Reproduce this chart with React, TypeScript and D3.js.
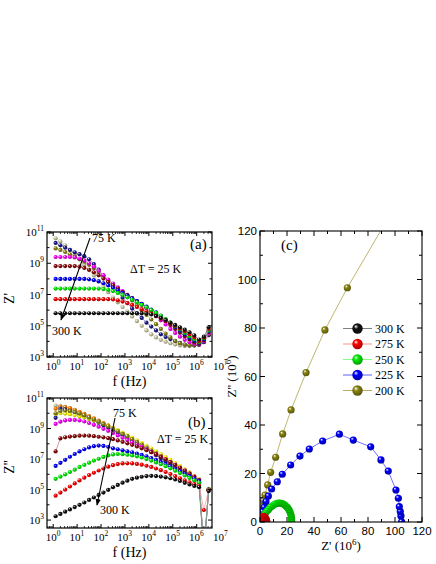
import React from 'react';
import * as d3 from 'd3';

const serif = '"Liberation Serif", "Times New Roman", serif';
const sans = '"Liberation Sans", Arial, sans-serif';

// log10 of frequency (Hz) for every measured point
const fExp = [0.1, 0.3, 0.5, 0.7, 0.9, 1.1, 1.3, 1.5, 1.7, 1.9, 2.1, 2.3, 2.5, 2.7, 2.9, 3.1, 3.3,
  3.5, 3.7, 3.9, 4.1, 4.3, 4.5, 4.7, 4.9, 5.1, 5.3, 5.5, 5.7, 5.9, 6.1, 6.3, 6.5];

// panel (a): log10 Z'
const re75 = [10.6, 10.4, 10.15, 9.85, 9.55, 9.25, 8.92, 8.58, 8.22, 7.85, 7.5, 7.15, 6.8, 6.5, 6.2, 5.9, 5.6, 5.3, 5.0, 4.7, 4.45, 4.25, 4.1, 3.98, 3.88, 3.8, 3.74, 3.7, 3.7, 3.72, 3.78, 3.95, 4.4];
const re100 = [10.3, 10.15, 10.0, 9.85, 9.7, 9.58, 9.45, 9.25, 8.95, 8.6, 8.2, 7.85, 7.5, 7.15, 6.8, 6.45, 6.1, 5.8, 5.5, 5.2, 4.95, 4.7, 4.45, 4.28, 4.15, 4.02, 3.9, 3.8, 3.75, 3.75, 3.78, 3.95, 4.4];
const re200 = [9.95, 9.85, 9.72, 9.57, 9.42, 9.26, 9.1, 8.9, 8.68, 8.44, 8.18, 7.92, 7.66, 7.41, 7.16, 6.92, 6.62, 6.3, 6.0, 5.7, 5.4, 5.1, 4.8, 4.5, 4.25, 4.03, 3.88, 3.8, 3.76, 3.76, 3.8, 4.0, 4.45];
const re150 = [9.4, 9.4, 9.4, 9.4, 9.37, 9.3, 9.18, 9.0, 8.78, 8.52, 8.24, 7.96, 7.7, 7.45, 7.21, 6.98, 6.76, 6.55, 6.34, 6.12, 5.88, 5.62, 5.35, 5.08, 4.8, 4.54, 4.3, 4.1, 3.94, 3.84, 3.8, 4.0, 4.5];
const re175 = [8.82, 8.82, 8.82, 8.82, 8.82, 8.78, 8.7, 8.58, 8.42, 8.23, 8.02, 7.8, 7.58, 7.37, 7.16, 6.96, 6.77, 6.58, 6.39, 6.2, 6.0, 5.78, 5.55, 5.3, 5.05, 4.8, 4.56, 4.33, 4.12, 3.95, 3.86, 4.08, 4.6];
const re225 = [8.0, 8.0, 8.0, 8.0, 8.0, 8.0, 8.0, 7.97, 7.92, 7.84, 7.72, 7.58, 7.43, 7.27, 7.1, 6.93, 6.76, 6.58, 6.4, 6.22, 6.04, 5.85, 5.64, 5.4, 5.16, 4.92, 4.68, 4.45, 4.23, 4.04, 3.92, 4.15, 4.65];
const re250 = [7.38, 7.38, 7.38, 7.38, 7.38, 7.38, 7.38, 7.38, 7.38, 7.38, 7.35, 7.3, 7.22, 7.1, 6.97, 6.82, 6.66, 6.5, 6.34, 6.17, 6.0, 5.83, 5.65, 5.42, 5.2, 4.98, 4.76, 4.54, 4.32, 4.12, 3.95, 4.2, 4.7];
const re275 = [6.7, 6.7, 6.7, 6.7, 6.7, 6.7, 6.7, 6.7, 6.7, 6.7, 6.7, 6.7, 6.68, 6.63, 6.55, 6.45, 6.33, 6.2, 6.06, 5.92, 5.77, 5.62, 5.46, 5.3, 5.15, 5.0, 4.83, 4.65, 4.45, 4.25, 4.02, 4.25, 4.8];
const re300 = [5.8, 5.8, 5.8, 5.8, 5.8, 5.8, 5.8, 5.8, 5.8, 5.8, 5.8, 5.8, 5.8, 5.8, 5.8, 5.8, 5.8, 5.79, 5.79, 5.78, 5.72, 5.62, 5.5, 5.36, 5.2, 5.05, 4.9, 4.75, 4.58, 4.38, 4.12, 4.3, 4.9];

// panel (b): log10 Z''
const im75 = [10.5, 10.48, 10.42, 10.32, 10.2, 10.06, 9.92, 9.77, 9.62, 9.46, 9.3, 9.13, 8.96, 8.79, 8.62, 8.44, 8.26, 8.08, 7.9, 7.71, 7.52, 7.33, 7.14, 6.94, 6.74, 6.54, 6.34, 6.13, 5.92, 5.7, 5.48, 1.0, 5.0];
const imOr = [10.3, 10.42, 10.4, 10.33, 10.23, 10.1, 9.96, 9.82, 9.67, 9.52, 9.36, 9.2, 9.03, 8.86, 8.69, 8.51, 8.33, 8.15, 7.96, 7.77, 7.58, 7.38, 7.18, 6.98, 6.77, 6.56, 6.35, 6.14, 5.92, 5.7, 5.48, 1.0, 5.0];
const im100 = [9.7, 10.3, 10.25, 10.15, 10.05, 9.93, 9.8, 9.66, 9.52, 9.37, 9.22, 9.06, 8.9, 8.73, 8.56, 8.38, 8.2, 8.02, 7.83, 7.64, 7.45, 7.25, 7.05, 6.85, 6.65, 6.45, 6.25, 6.05, 5.85, 5.65, 5.45, 1.0, 4.95];
const im125 = [9.95, 10.0, 9.98, 9.94, 9.88, 9.8, 9.72, 9.63, 9.53, 9.42, 9.3, 9.17, 9.03, 8.88, 8.72, 8.56, 8.39, 8.22, 8.05, 7.87, 7.69, 7.51, 7.32, 7.13, 6.94, 6.74, 6.54, 6.33, 6.12, 5.9, 5.67, 1.0, 5.05];
const im200 = [10.0, 10.15, 10.18, 10.15, 10.08, 9.98, 9.86, 9.73, 9.59, 9.45, 9.3, 9.14, 8.98, 8.82, 8.65, 8.48, 8.3, 8.12, 7.94, 7.75, 7.56, 7.37, 7.17, 6.97, 6.77, 6.57, 6.36, 6.15, 5.94, 5.72, 5.5, 1.0, 5.0];
const im150 = [9.3, 9.45, 9.53, 9.56, 9.56, 9.53, 9.46, 9.36, 9.24, 9.12, 8.98, 8.85, 8.7, 8.55, 8.4, 8.25, 8.1, 7.95, 7.8, 7.64, 7.48, 7.32, 7.15, 6.98, 6.8, 6.62, 6.44, 6.25, 6.05, 5.85, 5.64, 1.0, 5.0];
const im175 = [7.5, 8.35, 8.42, 8.47, 8.5, 8.53, 8.54, 8.53, 8.5, 8.46, 8.42, 8.37, 8.3, 8.22, 8.13, 8.03, 7.93, 7.82, 7.7, 7.58, 7.45, 7.3, 7.14, 6.97, 6.8, 6.62, 6.43, 6.24, 6.04, 5.84, 5.62, 1.0, 5.0];
const im225 = [6.55, 6.75, 6.95, 7.15, 7.33, 7.5, 7.64, 7.76, 7.84, 7.88, 7.86, 7.8, 7.7, 7.64, 7.57, 7.5, 7.43, 7.35, 7.27, 7.17, 7.06, 6.94, 6.81, 6.67, 6.52, 6.36, 6.2, 6.04, 5.88, 5.72, 5.56, 1.0, 5.0];
const im250 = [5.7, 5.85, 6.0, 6.15, 6.3, 6.48, 6.62, 6.76, 6.9, 7.02, 7.14, 7.24, 7.3, 7.33, 7.32, 7.28, 7.23, 7.18, 7.1, 7.0, 6.9, 6.78, 6.66, 6.53, 6.39, 6.24, 6.08, 5.92, 5.76, 5.6, 5.45, 1.0, 5.0];
const im275 = [4.6, 4.8, 5.0, 5.2, 5.4, 5.6, 5.78, 5.95, 6.1, 6.25, 6.38, 6.5, 6.6, 6.67, 6.71, 6.72, 6.71, 6.68, 6.63, 6.56, 6.48, 6.38, 6.27, 6.15, 6.02, 5.88, 5.74, 5.6, 5.47, 5.35, 5.25, 3.66, 4.95];
const im300 = [3.25, 3.4, 3.55, 3.7, 3.85, 4.0, 4.15, 4.32, 4.48, 4.65, 4.8, 4.98, 5.15, 5.3, 5.45, 5.58, 5.7, 5.78, 5.84, 5.88, 5.9, 5.88, 5.85, 5.8, 5.74, 5.66, 5.56, 5.44, 5.33, 5.24, 5.15, 1.0, 4.9];

// panel (c): [Z', Z''] in 10^6 ohm
const ny300 = [[0.63, 0.02], [0.6, 0.15], [0.5, 0.27], [0.35, 0.31], [0.2, 0.25], [0.08, 0.12], [0.02, 0.03]];
const ny275 = [[5.0, 0.1], [4.9, 0.6], [4.6, 1.1], [4.1, 1.6], [3.5, 2.0], [2.8, 2.3], [2.1, 2.2], [1.5, 1.9], [1.0, 1.5], [0.6, 1.1], [0.3, 0.6], [0.1, 0.2]];
const ny250 = [[23.5, 0.2], [23.4, 1.2], [23.2, 2.2], [22.8, 3.2], [22.2, 4.2], [21.4, 5.1], [20.4, 5.9], [19.2, 6.6], [17.9, 7.2], [16.5, 7.6], [15, 7.8], [13.5, 7.8], [12, 7.6], [10.5, 7.2], [9, 6.6], [7.6, 6.0], [6.3, 5.2], [5.1, 4.5], [4, 3.7], [3, 2.9], [2.1, 2.1], [1.4, 1.4], [0.8, 0.8], [0.3, 0.3]];
const ny225 = [[104.9, 0.1], [104.4, 2.5], [103.9, 4.3], [103.2, 6.3], [102.5, 9.8], [100.7, 13.2], [95, 21], [89.6, 25.6], [82, 31], [69.1, 33.8], [58.8, 36.2], [46.4, 33.4], [36.5, 30.1], [29.6, 27.2], [22.7, 23.5], [16.5, 19.7], [12.8, 16.6], [8.6, 13.6], [6.2, 10.7], [4.4, 8.4], [3.0, 6.0], [2.0, 4.2], [1.2, 2.6], [0.6, 1.3], [0.2, 0.4]];
const ny200 = [[0.2, 0.7], [0.5, 2.2], [1.0, 4.2], [1.7, 6.3], [2.5, 8.8], [3.7, 11.1], [5.7, 15.3], [7.9, 20.5], [11.6, 26.7], [16.8, 36.3], [23, 46.2], [34.1, 61.6], [48.1, 79.2], [64.7, 96.6], [93, 123.5]];

const palette = {
  beige: ['#cfcda4', '#dcdac0'],
  orange: ['#ff8000', '#ffb060'],
  navy: ['#1a1a8c', '#6a6ac0'],
  yellow: ['#ffff00', '#f0f080'],
  olive: ['#8a8410', '#b8ad62'],
  magenta: ['#ff00ff', '#ff80ff'],
  brown: ['#8b0a0a', '#c07070'],
  blue: ['#0000ff', '#6060ff'],
  green: ['#00ee00', '#80ff80'],
  red: ['#ff0000', '#ff9090'],
  black: ['#111111', '#808080'],
};

const seriesA = [
  { c: 'beige', v: re75 }, { c: 'navy', v: re100 }, { c: 'olive', v: re200 },
  { c: 'magenta', v: re150 }, { c: 'brown', v: re175 }, { c: 'blue', v: re225 },
  { c: 'green', v: re250 }, { c: 'red', v: re275 }, { c: 'black', v: re300 },
];
const seriesB = [
  { c: 'beige', v: im75 }, { c: 'orange', v: imOr }, { c: 'navy', v: im100 },
  { c: 'yellow', v: im125 }, { c: 'olive', v: im200 }, { c: 'magenta', v: im150 },
  { c: 'brown', v: im175 }, { c: 'blue', v: im225 }, { c: 'green', v: im250 },
  { c: 'red', v: im275 }, { c: 'black', v: im300 },
];
const seriesC = [
  { c: 'black', label: '300 K', v: ny300 }, { c: 'olive', label: '200 K', v: ny200 },
  { c: 'blue', label: '225 K', v: ny225 }, { c: 'green', label: '250 K', v: ny250 },
  { c: 'red', label: '275 K', v: ny275 },
];
const legendOrder = ['black', 'red', 'green', 'blue', 'olive'];

function Sup({ base, exp, ...rest }) {
  return (
    <text fontFamily={serif} fontSize={11} {...rest}>
      {base}
      <tspan dy={-5} fontSize={7.5}>{exp}</tspan>
    </text>
  );
}

function FreqPanel({ id, box, yLow, series, yTitle, tag, ann }) {
  const x = d3.scaleLog().domain([10 ** -0.26, 10 ** 6.64]).range([box.l, box.r]);
  const y = d3.scaleLog().domain([10 ** yLow, 1e11]).range([box.b, box.t]);
  const path = d3.line().x((d) => x(10 ** d[0])).y((d) => y(10 ** d[1]));

  const minor = [];
  for (let e = -1; e <= 6; e++) for (let m = 2; m <= 9; m++) {
    const v = m * 10 ** e;
    if (v > x.domain()[0] && v < x.domain()[1]) minor.push(v);
  }
  const yDec = d3.range(Math.ceil(yLow), 12);

  return (
    <g>
      <clipPath id={id}><rect x={box.l} y={box.t} width={box.r - box.l} height={box.b - box.t} /></clipPath>
      <g clipPath={`url(#${id})`}>
        {series.map((s) => {
          const pts = fExp.map((f, i) => [f, s.v[i]]);
          return (
            <g key={s.c}>
              <path d={path(pts)} fill="none" stroke={palette[s.c][1]} strokeWidth={0.7} />
              {pts.map((p, i) => (
                <circle key={i} cx={x(10 ** p[0])} cy={y(10 ** p[1])} r={2.1} fill={`url(#ball-${s.c})`} />
              ))}
            </g>
          );
        })}
      </g>
      <rect x={box.l} y={box.t} width={box.r - box.l} height={box.b - box.t} fill="none" stroke="#000" strokeWidth={1.2} />
      {d3.range(0, 7).map((e) => (
        <g key={e}>
          <line x1={x(10 ** e)} x2={x(10 ** e)} y1={box.b} y2={box.b - 4} stroke="#000" />
          <line x1={x(10 ** e)} x2={x(10 ** e)} y1={box.t} y2={box.t + 4} stroke="#000" />
        </g>
      ))}
      {minor.map((v, i) => (
        <g key={i}>
          <line x1={x(v)} x2={x(v)} y1={box.b} y2={box.b - 2} stroke="#000" strokeWidth={0.8} />
          <line x1={x(v)} x2={x(v)} y1={box.t} y2={box.t + 2} stroke="#000" strokeWidth={0.8} />
        </g>
      ))}
      {d3.range(0, 8).map((e) => (
        <Sup key={e} base="10" exp={e} x={53 + 23.9 * e} y={box.b + 13} textAnchor="middle" />
      ))}
      {yDec.map((e) => (
        <g key={e}>
          <line x1={box.l} x2={box.l + (e % 2 ? 4 : 2.5)} y1={y(10 ** e)} y2={y(10 ** e)} stroke="#000" />
          <line x1={box.r} x2={box.r - (e % 2 ? 4 : 2.5)} y1={y(10 ** e)} y2={y(10 ** e)} stroke="#000" />
          {e % 2 === 1 && <Sup base="10" exp={e} x={box.l - 3} y={y(10 ** e) + 4} textAnchor="end" />}
        </g>
      ))}
      <text transform={`translate(14,${(box.t + box.b) / 2 + 4}) rotate(-90)`} textAnchor="middle" fontFamily={serif} fontSize={14}>{yTitle}</text>
      <text x={(box.l + box.r) / 2} y={box.b + 29} textAnchor="middle" fontFamily={serif} fontSize={14}>f (Hz)</text>
      <text x={ann.tag[0]} y={ann.tag[1]} fontFamily={serif} fontSize={15}>{tag}</text>
      <text x={ann.dt[0]} y={ann.dt[1]} fontFamily={serif} fontSize={12}>ΔT = 25 K</text>
      <text x={ann.hi[0]} y={ann.hi[1]} fontFamily={serif} fontSize={12}>75 K</text>
      <text x={ann.lo[0]} y={ann.lo[1]} fontFamily={serif} fontSize={12}>300 K</text>
      <line x1={ann.arrow[0]} y1={ann.arrow[1]} x2={ann.arrow[2]} y2={ann.arrow[3]} stroke="#000" strokeWidth={1.1} markerEnd="url(#arrowHead)" />
    </g>
  );
}

function NyquistPanel() {
  const box = { l: 260, r: 422, t: 231, b: 522 };
  const x = d3.scaleLinear().domain([0, 120]).range([box.l, box.r]);
  const y = d3.scaleLinear().domain([0, 120]).range([box.b, box.t]);
  const path = d3.line().x((d) => x(d[0])).y((d) => y(d[1]));
  const ticks = d3.range(0, 121, 10);
  const legendY = d3.scaleLinear().domain([0, 4]).range([328.5, 390.5]);

  return (
    <g>
      <clipPath id="clipC"><rect x={box.l} y={box.t} width={box.r - box.l} height={box.b - box.t} /></clipPath>
      <g clipPath="url(#clipC)">
        {seriesC.map((s) => (
          <g key={s.c}>
            <path d={path(s.v)} fill="none" stroke={palette[s.c][1]} strokeWidth={0.9} />
            {s.v.map((p, i) => (
              <circle key={i} cx={x(p[0])} cy={y(p[1])} r={3.6} fill={`url(#ball-${s.c})`} />
            ))}
          </g>
        ))}
      </g>
      <rect x={box.l} y={box.t} width={box.r - box.l} height={box.b - box.t} fill="none" stroke="#000" strokeWidth={1.1} />
      {ticks.map((t) => {
        const len = t % 20 === 0 ? 5 : 3;
        return (
          <g key={t}>
            <line x1={x(t)} x2={x(t)} y1={box.b} y2={box.b - len} stroke="#000" />
            <line x1={x(t)} x2={x(t)} y1={box.t} y2={box.t + len} stroke="#000" />
            <line x1={box.l} x2={box.l + len} y1={y(t)} y2={y(t)} stroke="#000" />
            <line x1={box.r} x2={box.r - len} y1={y(t)} y2={y(t)} stroke="#000" />
            {t % 20 === 0 && (
              <>
                <text x={x(t)} y={box.b + 13} textAnchor="middle" fontFamily={sans} fontSize={11.5}>{t}</text>
                <text x={box.l - 3} y={y(t) + 4} textAnchor="end" fontFamily={sans} fontSize={11.5}>{t}</text>
              </>
            )}
          </g>
        );
      })}
      <text x={281} y={250} fontFamily={serif} fontSize={15}>(c)</text>
      <text x={(box.l + box.r) / 2} y={550} textAnchor="middle" fontFamily={serif} fontSize={13}>
        Z' (10<tspan dy={-5} fontSize={9}>6</tspan><tspan dy={5}>)</tspan>
      </text>
      <text transform={`translate(236,${(box.t + box.b) / 2}) rotate(-90)`} textAnchor="middle" fontFamily={serif} fontSize={13}>
        Z'' (10<tspan dy={-5} fontSize={9}>6</tspan><tspan dy={5}>)</tspan>
      </text>
      {legendOrder.map((c, i) => {
        const s = seriesC.find((d) => d.c === c);
        const ly = legendY(i);
        return (
          <g key={c}>
            <line x1={343} x2={372} y1={ly} y2={ly} stroke={palette[c][1]} strokeWidth={1} />
            <circle cx={357.5} cy={ly} r={5.2} fill={`url(#ball-${c})`} />
            <text x={375} y={ly + 4} fontFamily={serif} fontSize={12}>{s.label}</text>
          </g>
        );
      })}
    </g>
  );
}

export default function App() {
  return (
    <svg width={436} height={564} style={{ position: 'absolute', left: 0, top: 0, background: '#fff' }}>
      <defs>
        {Object.keys(palette).map((k) => (
          <radialGradient key={k} id={`ball-${k}`} cx="0.45" cy="0.42" r="0.6" fx="0.33" fy="0.3">
            <stop offset="0" stopColor="#ffffff" />
            <stop offset="0.35" stopColor={palette[k][0]} />
            <stop offset="1" stopColor={d3.color(palette[k][0]).darker(1.3).formatHex()} />
          </radialGradient>
        ))}
        <marker id="arrowHead" viewBox="0 0 10 10" refX="9" refY="5" markerWidth="6" markerHeight="6" orient="auto">
          <path d="M0,1 L10,5 L0,9 z" fill="#000" />
        </marker>
      </defs>
      <FreqPanel
        id="clipA"
        box={{ l: 47, r: 212, t: 232, b: 357 }}
        yLow={3}
        series={seriesA}
        yTitle="Z'"
        tag="(a)"
        ann={{ tag: [190, 249], dt: [130, 273], hi: [92, 242], lo: [52, 335], arrow: [90, 238, 61, 320] }}
      />
      <FreqPanel
        id="clipB"
        box={{ l: 47, r: 212, t: 398, b: 528 }}
        yLow={2.48}
        series={seriesB}
        yTitle="Z''"
        tag="(b)"
        ann={{ tag: [188, 427], dt: [157, 443], hi: [113, 417], lo: [100, 514], arrow: [115, 418, 97, 505] }}
      />
      <NyquistPanel />
    </svg>
  );
}
